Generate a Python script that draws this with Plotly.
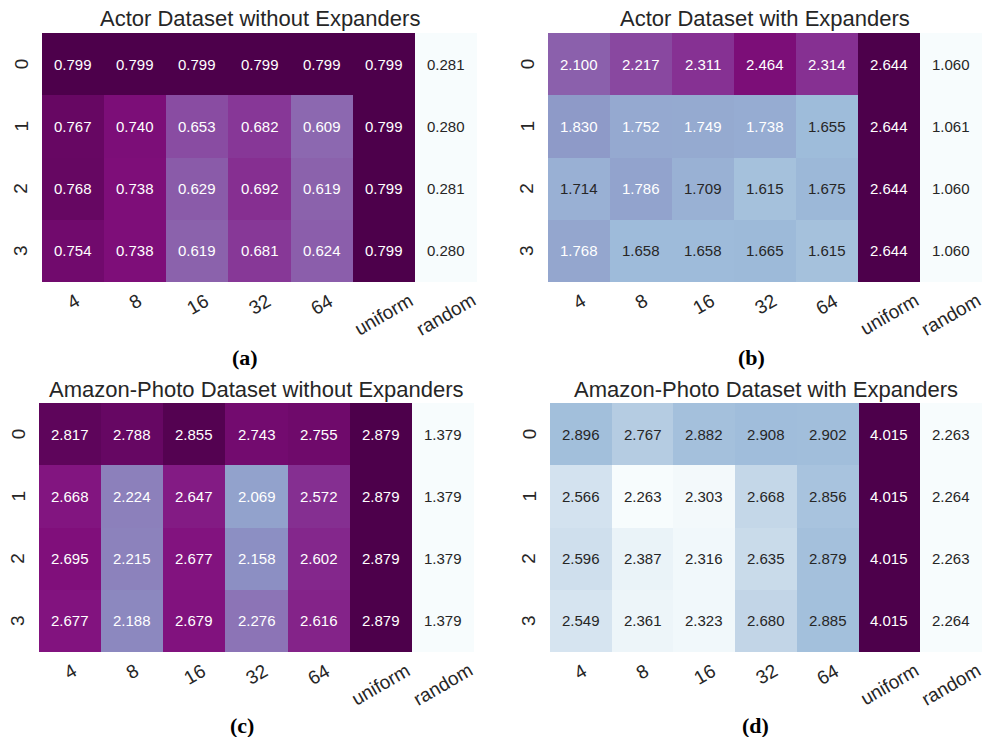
import plotly.graph_objects as go

# Column / row labels shared by all four heatmaps
col_labels = ["4", "8", "16", "32", "64", "uniform", "random"]
row_labels = ["0", "1", "2", "3"]

titles = [
    "Actor Dataset without Expanders",
    "Actor Dataset with Expanders",
    "Amazon-Photo Dataset without Expanders",
    "Amazon-Photo Dataset with Expanders",
]
panel_tags = ["(a)", "(b)", "(c)", "(d)"]

actor_without = [
    [0.799, 0.799, 0.799, 0.799, 0.799, 0.799, 0.281],
    [0.767, 0.740, 0.653, 0.682, 0.609, 0.799, 0.280],
    [0.768, 0.738, 0.629, 0.692, 0.619, 0.799, 0.281],
    [0.754, 0.738, 0.619, 0.681, 0.624, 0.799, 0.280],
]
actor_with = [
    [2.100, 2.217, 2.311, 2.464, 2.314, 2.644, 1.060],
    [1.830, 1.752, 1.749, 1.738, 1.655, 2.644, 1.061],
    [1.714, 1.786, 1.709, 1.615, 1.675, 2.644, 1.060],
    [1.768, 1.658, 1.658, 1.665, 1.615, 2.644, 1.060],
]
amazon_without = [
    [2.817, 2.788, 2.855, 2.743, 2.755, 2.879, 1.379],
    [2.668, 2.224, 2.647, 2.069, 2.572, 2.879, 1.379],
    [2.695, 2.215, 2.677, 2.158, 2.602, 2.879, 1.379],
    [2.677, 2.188, 2.679, 2.276, 2.616, 2.879, 1.379],
]
amazon_with = [
    [2.896, 2.767, 2.882, 2.908, 2.902, 4.015, 2.263],
    [2.566, 2.263, 2.303, 2.668, 2.856, 4.015, 2.264],
    [2.596, 2.387, 2.316, 2.635, 2.879, 4.015, 2.263],
    [2.549, 2.361, 2.323, 2.680, 2.885, 4.015, 2.264],
]
panels = [actor_without, actor_with, amazon_without, amazon_with]

W, H = 984, 737
# Pixel boxes of each heatmap: (left, right, top, bottom)
boxes = [(42, 477, 33, 282), (548, 982, 33, 282),
         (39, 474, 403, 652), (550, 982, 403, 652)]
title_y = [19, 19, 389, 389]
tag_pos = [(245, 357), (751, 357), (242, 725), (755, 725)]

BUPU = ["#f7fcfd", "#e0ecf4", "#bfd3e6", "#9ebcda", "#8c96c6",
        "#8c6bb1", "#88419d", "#810f7c", "#4d004b"]
colorscale = [[i / (len(BUPU) - 1), c] for i, c in enumerate(BUPU)]

SANS = "Liberation Sans, Arial, sans-serif"
DARK = "#262626"


def hex_rgb(h):
    return tuple(int(h[i:i + 2], 16) for i in (1, 3, 5))


def cmap(t):
    t = min(max(t, 0.0), 1.0) * (len(BUPU) - 1)
    i = min(int(t), len(BUPU) - 2)
    f = t - i
    a, b = hex_rgb(BUPU[i]), hex_rgb(BUPU[i + 1])
    return [a[k] + (b[k] - a[k]) * f for k in range(3)]


def luminance(rgb):
    lin = []
    for c in rgb:
        c = c / 255.0
        lin.append(c / 12.92 if c <= 0.03928 else ((c + 0.055) / 1.055) ** 2.4)
    return 0.2126 * lin[0] + 0.7152 * lin[1] + 0.0722 * lin[2]


cols = list(range(len(col_labels)))
rows = list(range(len(row_labels)))

fig = go.Figure()
annotations = []

for k, z in enumerate(panels):
    L, R, T, B = boxes[k]
    ax = "" if k == 0 else str(k + 1)
    xa, ya = "x" + ax, "y" + ax
    zmin = min(min(r) for r in z)
    zmax = max(max(r) for r in z)

    fig.add_trace(go.Heatmap(
        z=z, x=cols, y=rows, xaxis=xa, yaxis=ya,
        colorscale=colorscale, zmin=zmin, zmax=zmax, showscale=False,
        hoverinfo="skip",
    ))

    fig.update_layout(**{
        "xaxis" + ax: dict(domain=[L / W, R / W], anchor=ya, showticklabels=False,
                           showgrid=False, zeroline=False, ticks="",
                           range=[-0.5, len(cols) - 0.5]),
        "yaxis" + ax: dict(domain=[1 - B / H, 1 - T / H], anchor=xa,
                           showticklabels=False, showgrid=False, zeroline=False,
                           ticks="", range=[len(rows) - 0.5, -0.5]),
    })

    # cell values
    for i, row in enumerate(z):
        for j, v in enumerate(row):
            lum = luminance(cmap((v - zmin) / (zmax - zmin)))
            annotations.append(dict(
                x=j, y=i, xref=xa, yref=ya,
                text=f"{v:.3f}", showarrow=False,
                font=dict(family=SANS, size=15,
                          color=DARK if lum > 0.408 else "white"),
            ))

    # rotated column labels
    for j, lab in enumerate(col_labels):
        annotations.append(dict(
            x=j, y=0, xref=xa, yref=ya + " domain", yanchor="top",
            xanchor="center", yshift=-5, text=lab, textangle=-30,
            showarrow=False, font=dict(family=SANS, size=19, color=DARK),
        ))

    # vertical row labels
    for i, lab in enumerate(row_labels):
        annotations.append(dict(
            x=0, y=i, xref=xa + " domain", yref=ya, xanchor="center",
            xshift=-21, text=lab, textangle=-90, showarrow=False,
            font=dict(family=SANS, size=19, color=DARK),
        ))

    # panel title
    annotations.append(dict(
        x=(L + R) / 2 / W, y=1 - title_y[k] / H, xref="paper", yref="paper",
        xanchor="center", yanchor="middle", text=titles[k], showarrow=False,
        font=dict(family=SANS, size=22, color=DARK),
    ))

    # panel tag
    tx, ty = tag_pos[k]
    annotations.append(dict(
        x=tx / W, y=1 - ty / H, xref="paper", yref="paper",
        xanchor="center", yanchor="middle", text="<b>" + panel_tags[k] + "</b>",
        showarrow=False,
        font=dict(family="Liberation Serif, Times New Roman, serif", size=22,
                  color="black"),
    ))

fig.update_layout(
    width=W, height=H, margin=dict(l=0, r=0, t=0, b=0),
    paper_bgcolor="white", plot_bgcolor="white",
    annotations=annotations, showlegend=False,
)

fig.write_html("out.html")
